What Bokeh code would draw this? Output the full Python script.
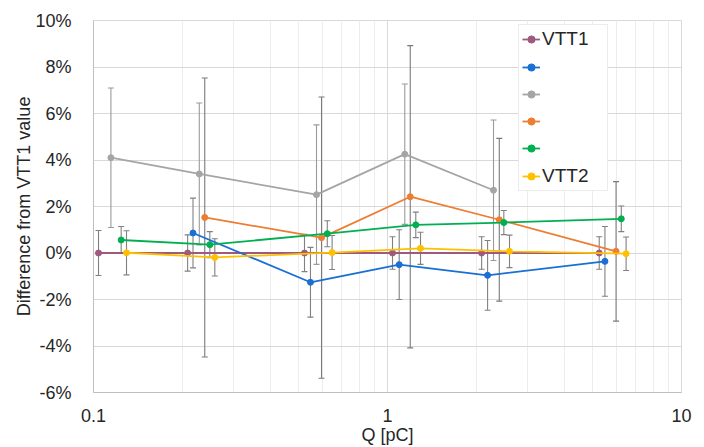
from bokeh.plotting import figure
from bokeh.models import (Range1d, FixedTicker, PrintfTickFormatter, ColumnDataSource,
                          Whisker, TeeHead, Legend, LegendItem)
from bokeh.embed import file_html
from bokeh.resources import INLINE

# ---- data ----
q_vtt1 = [0.104, 0.209, 0.522, 1.04, 2.09, 5.25]
d_vtt1 = [0.0, 0.0, 0.0, 0.0, 0.0, 0.0]
e_vtt1 = [0.97, 0.78, 0.8, 0.7, 0.7, 0.7]

q_blue = [0.218, 0.547, 1.096, 2.19, 5.49]
d_blue = [0.86, -1.26, -0.5, -0.96, -0.36]
e_blue = [1.5, 1.5, 1.5, 1.5, 1.5]

q_gray = [0.1146, 0.229, 0.5735, 1.145, 2.294]
d_gray = [4.1, 3.4, 2.51, 4.25, 2.7]
e_gray = [3.0, 3.05, 3.0, 3.02, 3.02]

q_orange = [0.239, 0.5965, 1.195, 2.40, 5.99]
d_orange = [1.53, 0.66, 2.42, 1.43, 0.07]
e_orange = [6.0, 6.05, 6.5, 3.5, 3.0]

q_green = [0.1242, 0.2487, 0.624, 1.248, 2.487, 6.24]
d_green = [0.56, 0.36, 0.83, 1.21, 1.31, 1.47]
e_green = [0.58, 0.56, 0.56, 0.55, 0.52, 0.55]

q_vtt2 = [0.1295, 0.2586, 0.648, 1.295, 2.6, 6.48]
d_vtt2 = [0.01, -0.19, 0.02, 0.2, 0.07, -0.03]
e_vtt2 = [0.95, 0.8, 0.73, 0.69, 0.7, 0.72]

series = [
    ("VTT1", q_vtt1, d_vtt1, e_vtt1, "#9e5a7e", "#808080"),
    (" ", q_blue, d_blue, e_blue, "#1a6fd4", "#808080"),
    ("  ", q_gray, d_gray, e_gray, "#a5a5a5", "#9a9a9a"),
    ("   ", q_orange, d_orange, e_orange, "#ed7d31", "#7a7a7a"),
    ("    ", q_green, d_green, e_green, "#00b050", "#808080"),
    ("VTT2", q_vtt2, d_vtt2, e_vtt2, "#ffc000", "#808080"),
]

y_ticks = [-6, -4, -2, 0, 2, 4, 6, 8, 10]
x_major = [0.1, 1, 10]
x_minor = [0.2, 0.3, 0.4, 0.5, 0.6, 0.7, 0.8, 0.9, 2, 3, 4, 5, 6, 7, 8, 9]

FONT = "Liberation Sans"

p = figure(width=704, height=447, x_axis_type="log", output_backend="svg",
           toolbar_location=None,
           x_range=Range1d(0.1, 10), y_range=Range1d(-6, 10),
           min_border_left=93, min_border_right=23, min_border_top=20, min_border_bottom=54)
p.background_fill_color = "white"
p.border_fill_color = "white"
p.outline_line_color = "#d9d9d9"

# axes
p.xaxis.ticker = FixedTicker(ticks=x_major, minor_ticks=x_minor)
p.xaxis.major_label_overrides = {0.1: "0.1", 1: "1", 10: "10"}
p.yaxis.ticker = FixedTicker(ticks=y_ticks)
p.yaxis.formatter = PrintfTickFormatter(format="%d%%")
for ax in (p.xaxis[0], p.yaxis[0]):
    ax.major_tick_line_color = None
    ax.minor_tick_line_color = None
    ax.axis_line_color = "#bfbfbf"
    ax.major_label_text_font = FONT
    ax.major_label_text_font_size = "18px"
    ax.major_label_text_color = "#262626"
    ax.axis_label_text_font = FONT
    ax.axis_label_text_font_size = "18px"
    ax.axis_label_text_font_style = "normal"
    ax.axis_label_text_color = "#262626"
p.yaxis.axis_label = "Difference from VTT1 value"
p.yaxis.major_label_standoff = 16
p.yaxis.axis_label_standoff = -2
p.xaxis.axis_label = "Q [pC]"
p.xaxis.major_label_standoff = 10
p.xaxis.axis_label_standoff = 0

p.xgrid.grid_line_color = "#d9d9d9"
p.xgrid.minor_grid_line_color = "#ededed"
p.ygrid.grid_line_color = "#d9d9d9"

items = []
for name, q, d, e, col, ecol in series:
    src = ColumnDataSource(dict(q=q, d=d, lo=[a - b for a, b in zip(d, e)],
                                hi=[a + b for a, b in zip(d, e)]))
    w = Whisker(base="q", lower="lo", upper="hi", source=src, dimension="height",
                line_color=ecol, line_width=1.1,
                upper_head=TeeHead(size=6, line_color=ecol, line_width=1.1),
                lower_head=TeeHead(size=6, line_color=ecol, line_width=1.1))
    p.add_layout(w)

for name, q, d, e, col, ecol in series:
    src = ColumnDataSource(dict(q=q, d=d))
    r1 = p.line("q", "d", source=src, line_color=col, line_width=1.8)
    r2 = p.scatter("q", "d", source=src, size=6, fill_color=col, line_color=col)
    items.append(LegendItem(label=name, renderers=[r1, r2]))

legend = Legend(items=items, location=(425, 201), padding=3, spacing=7,
                glyph_width=18, glyph_height=20, label_height=20, label_width=62,
                label_standoff=2, margin=0,
                label_text_font=FONT, label_text_font_size="19px",
                label_text_color="#262626",
                border_line_color="#d9d9d9", border_line_width=1,
                background_fill_color="white", background_fill_alpha=1)
p.add_layout(legend)

open("out.html", "w").write(file_html(p, INLINE))
